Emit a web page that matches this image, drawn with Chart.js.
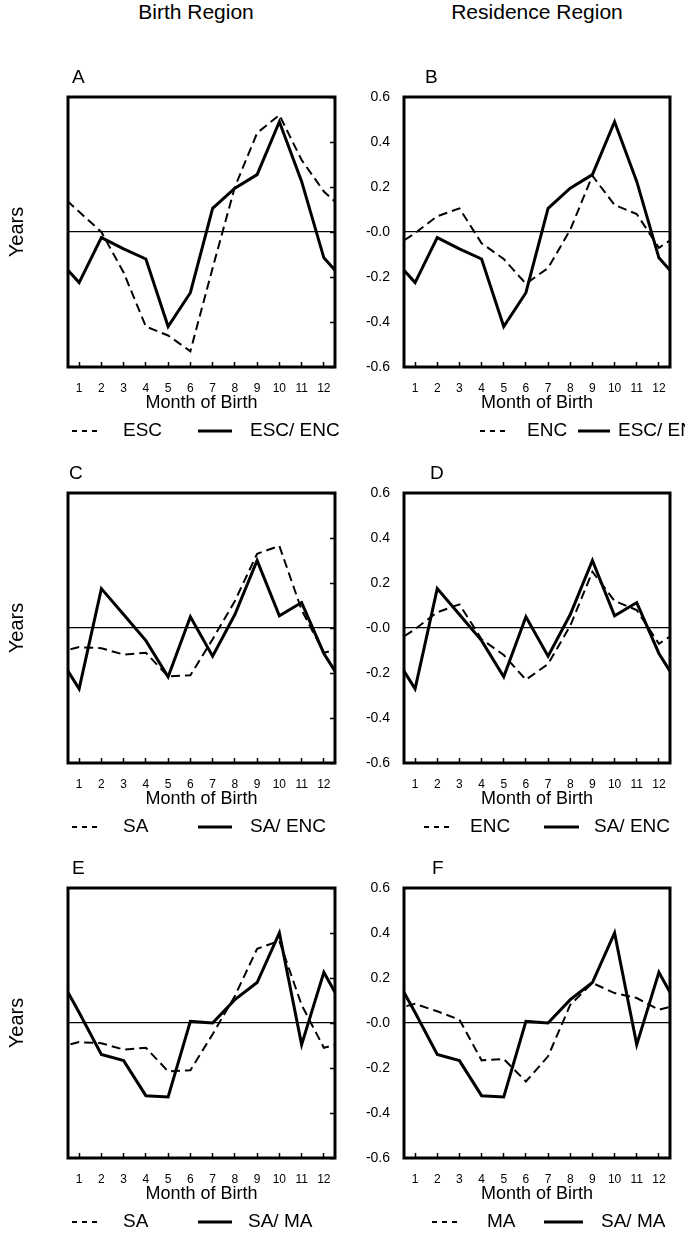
<!DOCTYPE html>
<html>
<head>
<meta charset="utf-8">
<title>Month of birth differences</title>
<script src="https://cdn.jsdelivr.net/npm/chart.js@4.4.1/dist/chart.umd.min.js"></script>
<style>
  body { margin: 0; background: #fff; }
  #page { position: relative; width: 685px; height: 1241px; overflow: hidden;
          font-family: "Liberation Sans", Arial, Helvetica, sans-serif; color: #000; }
  .head { position: absolute; top: 2px; width: 240px; text-align: center;
          font-size: 21px; line-height: 20px; }
  canvas { position: absolute; }
</style>
</head>
<body>
<div id="page">
  <div class="head" style="left:76px">Birth Region</div>
  <div class="head" style="left:417px">Residence Region</div>
  <canvas id="panelA" width="350" height="395" style="left:0;top:54px"></canvas>
  <canvas id="panelB" width="340" height="395" style="left:345px;top:54px"></canvas>
  <canvas id="panelC" width="350" height="395" style="left:0;top:450px"></canvas>
  <canvas id="panelD" width="340" height="395" style="left:345px;top:450px"></canvas>
  <canvas id="panelE" width="350" height="395" style="left:0;top:845px"></canvas>
  <canvas id="panelF" width="340" height="395" style="left:345px;top:845px"></canvas>
</div>
<script>
// months on the x axis and their tick labels
const MONTHS = [1, 2, 3, 4, 5, 6, 7, 8, 9, 10, 11, 12];
const MONTH_LABELS = ['1', '2', '3', '4', '5', '6', '7', '8', '9', '10', '11', '12'];

// y axis ticks (years) and the labels printed next to them
const Y_TICKS = [-0.6, -0.4, -0.2, 0, 0.2, 0.4, 0.6];
const Y_TICK_LABELS = ['-0.6', '-0.4', '-0.2', '-0.0', '0.2', '0.4', '0.6'];

// difference in years by month of birth, one value per month (Jan..Dec)
const ESC     = [0.09, 0.00, -0.18, -0.42, -0.46, -0.53, -0.16, 0.20, 0.44, 0.52, 0.32, 0.18];
const ESC_ENC = [-0.225, -0.025, -0.075, -0.12, -0.42, -0.27, 0.105, 0.195, 0.255, 0.49, 0.225, -0.115];
const ENC     = [-0.005, 0.07, 0.105, -0.05, -0.12, -0.23, -0.16, 0.01, 0.25, 0.12, 0.08, -0.07];
const SA      = [-0.085, -0.09, -0.118, -0.11, -0.215, -0.21, -0.05, 0.12, 0.33, 0.365, 0.08, -0.11];
const SA_ENC  = [-0.27, 0.175, 0.06, -0.056, -0.217, 0.05, -0.125, 0.06, 0.30, 0.054, 0.113, -0.113];
const MA      = [0.085, 0.052, 0.015, -0.166, -0.16, -0.26, -0.148, 0.081, 0.178, 0.133, 0.111, 0.059];
const SA_MA   = [0.047, -0.14, -0.167, -0.323, -0.329, 0.007, 0.0, 0.104, 0.18, 0.40, -0.096, 0.225];

const FONT = '"Liberation Sans", Arial, Helvetica, sans-serif';
Chart.defaults.font.family = FONT;
Chart.defaults.color = '#000';

// curves are cyclic, so December is repeated before January and January after December
function wrapped(values) {
  const pts = MONTHS.map((m, i) => ({x: m, y: values[i]}));
  return [{x: 0, y: values[11]}, ...pts, {x: 13, y: values[0]}];
}

// frame, panel letter and legend row
const panelDecor = {
  id: 'panelDecor',
  afterDraw(chart, args, opts) {
    const {ctx, chartArea: a} = chart;
    ctx.save();
    ctx.strokeStyle = '#000';
    ctx.fillStyle = '#000';
    ctx.lineWidth = 3;
    ctx.strokeRect(a.left, a.top, a.right - a.left, a.bottom - a.top);

    ctx.font = '19px ' + FONT;
    ctx.textAlign = 'left';
    ctx.textBaseline = 'alphabetic';
    ctx.fillText(opts.letter, a.left + opts.letterX, a.top - 14);

    const y = a.bottom + 64;
    ctx.font = '19px ' + FONT;
    ctx.textBaseline = 'middle';
    chart.data.datasets.forEach((ds, i) => {
      const [x0, x1, tx] = opts.legend[i];
      ctx.beginPath();
      ctx.lineWidth = ds.borderWidth;
      ctx.setLineDash(ds.borderDash ? [5, 5] : []);
      ctx.moveTo(a.left + x0, y);
      ctx.lineTo(a.left + x1, y);
      ctx.stroke();
      ctx.setLineDash([]);
      ctx.fillText(ds.label, a.left + tx, y);
    });
    ctx.restore();
  }
};

function makePanel(canvasId, p) {
  const left = p.col === 0;
  const inwardTicks = {drawOnChartArea: false, drawTicks: true, tickLength: -5, tickColor: '#000', tickWidth: 1.5};

  const scales = {
    x: {
      type: 'linear', min: 0.5, max: 12.5,
      afterBuildTicks: ax => { ax.ticks = MONTHS.map(v => ({value: v})); },
      afterFit: ax => { ax.height = 47.3; },
      grid: inwardTicks,
      border: {display: false},
      ticks: {padding: 19, font: {size: 12}, maxRotation: 0, autoSkip: false,
              callback: (v, i) => MONTH_LABELS[i]},
      title: {display: true, text: 'Month of Birth', font: {size: 18}, padding: {top: 0, bottom: 0}}
    },
    y: {
      min: -0.6, max: 0.6,
      afterBuildTicks: ax => { ax.ticks = Y_TICKS.map(v => ({value: v})); },
      afterFit: ax => { ax.width = left ? 68 : 59; },
      grid: {
        drawTicks: false,
        lineWidth: 1.2,
        color: c => (c.tick && c.tick.value === 0) ? '#000' : 'rgba(0,0,0,0)'
      },
      border: {display: false},
      ticks: {display: !left, padding: 14, font: {size: 14},
              callback: (v, i) => Y_TICK_LABELS[i]},
      title: {display: left, text: 'Years', font: {size: 20}, padding: {top: 5.5, bottom: 0}}
    }
  };
  if (left) {
    scales.y2 = {
      position: 'right', min: -0.6, max: 0.6,
      afterBuildTicks: ax => { ax.ticks = Y_TICKS.map(v => ({value: v})); },
      afterFit: ax => { ax.width = 0; },
      grid: inwardTicks,
      border: {display: false},
      ticks: {display: false}
    };
  }

  return new Chart(document.getElementById(canvasId), {
    type: 'line',
    data: {
      datasets: [
        {label: p.dashedLabel, data: wrapped(p.dashed), borderColor: '#000', borderWidth: 2,
         borderDash: [9, 5], pointRadius: 0, tension: 0, fill: false},
        {label: p.solidLabel, data: wrapped(p.solid), borderColor: '#000', borderWidth: 3,
         pointRadius: 0, tension: 0, fill: false}
      ]
    },
    options: {
      responsive: false,
      animation: false,
      layout: {padding: {left: 0, right: left ? 11 : 10, top: 43, bottom: 34.7}},
      scales: scales,
      plugins: {
        legend: {display: false},
        tooltip: {enabled: false},
        panelDecor: {letter: p.letter, letterX: p.letterX, legend: p.legend}
      }
    },
    plugins: [panelDecor]
  });
}

makePanel('panelA', {col: 0, letter: 'A', letterX: 4, dashed: ESC, dashedLabel: 'ESC',
  solid: ESC_ENC, solidLabel: 'ESC/ ENC', legend: [[4, 29, 55], [130, 164, 182]]});
makePanel('panelB', {col: 1, letter: 'B', letterX: 21, dashed: ENC, dashedLabel: 'ENC',
  solid: ESC_ENC, solidLabel: 'ESC/ ENC', legend: [[76, 101, 123], [174, 206, 214]]});
makePanel('panelC', {col: 0, letter: 'C', letterX: 1, dashed: SA, dashedLabel: 'SA',
  solid: SA_ENC, solidLabel: 'SA/ ENC', legend: [[4, 29, 55], [130, 164, 182]]});
makePanel('panelD', {col: 1, letter: 'D', letterX: 26, dashed: ENC, dashedLabel: 'ENC',
  solid: SA_ENC, solidLabel: 'SA/ ENC', legend: [[20, 45, 66], [140, 175, 190]]});
makePanel('panelE', {col: 0, letter: 'E', letterX: 4, dashed: SA, dashedLabel: 'SA',
  solid: SA_MA, solidLabel: 'SA/ MA', legend: [[4, 29, 55], [130, 164, 180]]});
makePanel('panelF', {col: 1, letter: 'F', letterX: 28, dashed: MA, dashedLabel: 'MA',
  solid: SA_MA, solidLabel: 'SA/ MA', legend: [[28, 53, 83], [140, 179, 197]]});
</script>
</body>
</html>
